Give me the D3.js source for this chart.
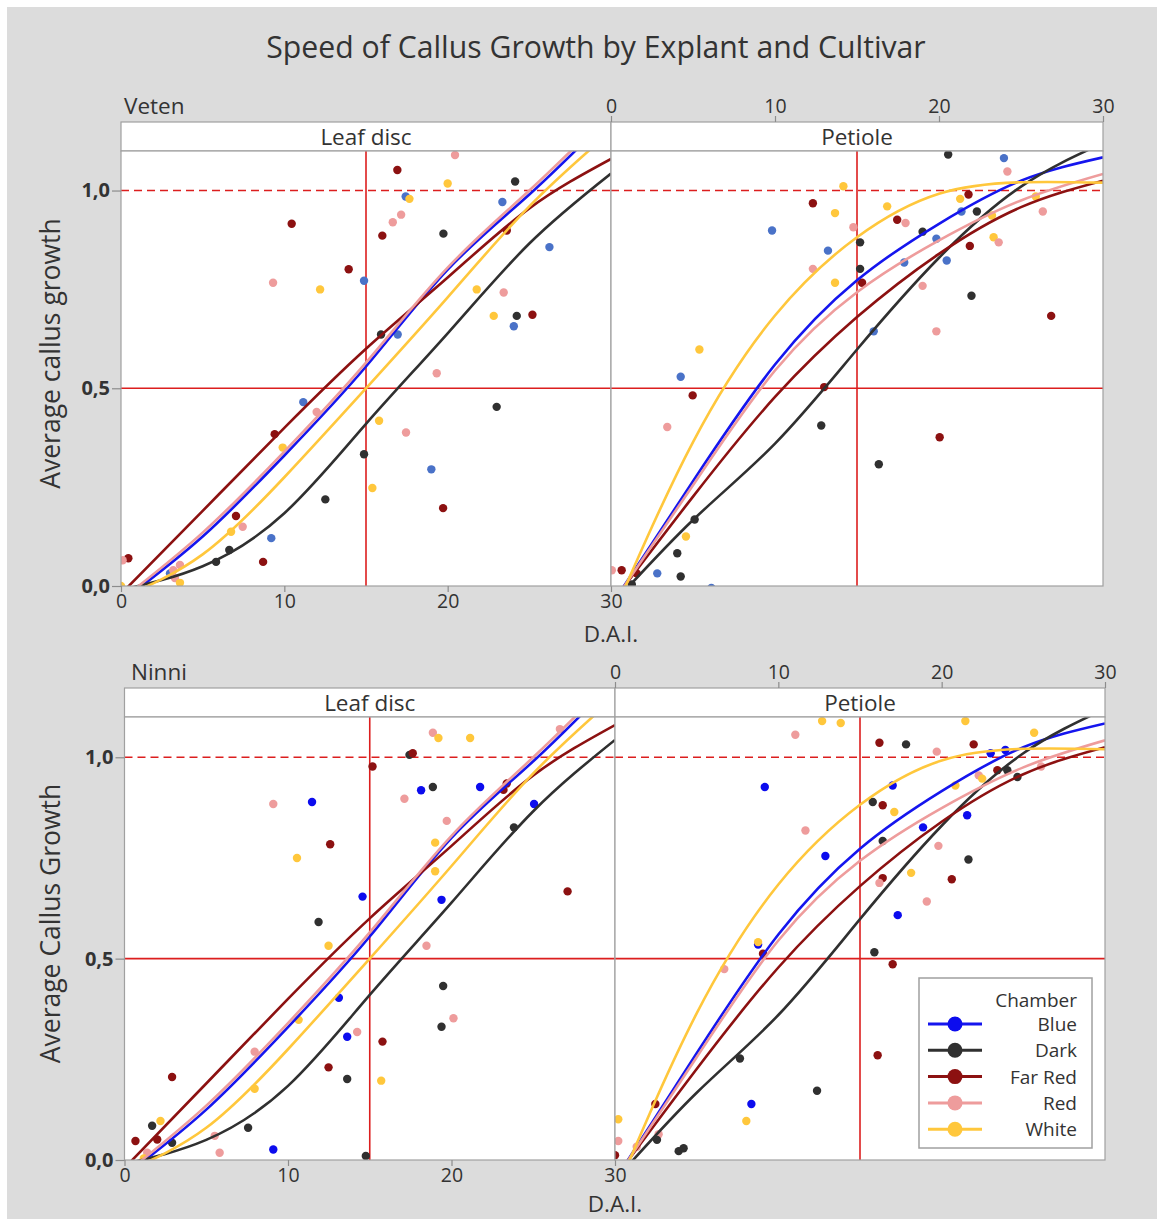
<!DOCTYPE html>
<html>
<head>
<meta charset="utf-8">
<script src="https://cdn.jsdelivr.net/npm/d3@7"></script>
<style>
  body { margin: 0; background: #fff; }
  svg text { font-family: "Segoe UI", "Open Sans", "Noto Sans", sans-serif; fill: #333; }
</style>
</head>
<body>
<svg width="1157" height="1219"></svg>
<script>
// chamber categories (legend order)
const chambers = ["Blue", "Dark", "Far Red", "Red", "White"];
const dayTicks = [0, 10, 20, 30];
const growthTicks = [0, 0.5, 1.0];

// fitted curves at these days
const fitDays = [0, 5, 10, 15, 20, 25, 30];
const leafFitBlue   = [-0.04, 0.125, 0.33, 0.555, 0.80, 0.99, 1.19];
const leafFitDark   = [-0.01, 0.05, 0.184, 0.41, 0.639, 0.866, 1.043];
const leafFitFarRed = [-0.02, 0.19, 0.40, 0.60, 0.78, 0.955, 1.08];
const leafFitRed    = [-0.035, 0.135, 0.34, 0.565, 0.805, 1.0, 1.2];
const leafFitWhite  = [-0.03, 0.08, 0.275, 0.50, 0.73, 0.96, 1.15];

const petFitBlue   = [-0.05, 0.265, 0.56, 0.773, 0.916, 1.025, 1.084];
const petFitDark   = [-0.05, 0.167, 0.36, 0.598, 0.83, 1.01, 1.12];
const petFitFarRed = [-0.045, 0.226, 0.478, 0.68, 0.84, 0.958, 1.025];
const petFitRed    = [-0.05, 0.255, 0.545, 0.743, 0.874, 0.975, 1.042];
const petFitWhite  = [-0.085, 0.364, 0.684, 0.882, 0.992, 1.021, 1.02];

// observations: [chamber, D.A.I., average growth]
const vetenLeaf = [
  ["Red",20.45,1.09],["Far Red",16.92,1.052],["Dark",24.13,1.023],["White",20.0,1.018],
  ["Blue",17.43,0.985],["White",17.66,0.979],["Blue",23.35,0.971],["Red",17.15,0.939],
  ["Red",16.64,0.92],["Far Red",10.45,0.916],["Far Red",16.0,0.886],["Dark",19.74,0.891],
  ["Far Red",23.62,0.899],["Blue",26.23,0.857],["Far Red",13.94,0.801],["Red",9.31,0.767],
  ["Blue",14.88,0.772],["White",12.19,0.75],["White",21.78,0.75],["Red",23.43,0.742],
  ["White",22.82,0.683],["Dark",24.23,0.683],["Far Red",25.19,0.686],["Blue",24.05,0.657],
  ["Dark",15.92,0.636],["Blue",16.94,0.636],["Red",19.33,0.538],["Blue",11.16,0.465],
  ["Dark",23.0,0.453],["Red",11.98,0.44],["White",15.8,0.418],["Far Red",9.41,0.384],
  ["Red",17.45,0.388],["White",9.9,0.35],["Dark",14.88,0.333],["Blue",19.0,0.295],
  ["White",15.39,0.248],["Dark",12.51,0.219],["Far Red",19.72,0.197],["Far Red",7.04,0.177],
  ["Red",7.45,0.15],["White",6.74,0.137],["Blue",9.2,0.121],["Dark",6.63,0.091],
  ["Dark",5.82,0.061],["Far Red",8.7,0.061],["Far Red",0.45,0.07],["Red",0.1,0.065],
  ["Red",3.61,0.053],["Blue",3.0,0.032],["Red",3.2,0.04],["Red",3.3,0.02],
  ["White",3.61,0.008],["White",0.0,0.0]
];
const vetenPetiole = [
  ["Dark",20.56,1.091],["Blue",23.96,1.082],["Red",24.17,1.048],["White",14.17,1.011],
  ["Far Red",21.8,0.99],["White",21.29,0.979],["Far Red",12.31,0.968],["White",16.84,0.96],
  ["White",25.9,0.985],["Blue",21.37,0.947],["Dark",22.31,0.947],["Red",26.33,0.947],
  ["White",13.66,0.943],["White",23.23,0.937],["Far Red",17.45,0.926],["Red",17.96,0.918],
  ["Red",14.78,0.907],["Blue",9.82,0.899],["Dark",19.0,0.896],["Blue",19.84,0.878],
  ["White",23.33,0.882],["Red",23.64,0.869],["Dark",15.19,0.869],["Far Red",21.88,0.86],
  ["Blue",13.23,0.848],["Blue",17.88,0.818],["Blue",20.47,0.823],["Red",12.31,0.802],
  ["Dark",15.19,0.802],["White",13.66,0.767],["Far Red",15.31,0.767],["Red",19.0,0.759],
  ["Dark",21.98,0.734],["Far Red",26.84,0.683],["Red",19.84,0.644],["Blue",16.02,0.644],
  ["White",5.39,0.598],["Blue",4.25,0.529],["Far Red",13.0,0.503],["Far Red",4.98,0.482],
  ["Dark",12.82,0.406],["Red",3.43,0.402],["Far Red",20.04,0.376],["Dark",16.33,0.308],
  ["Dark",5.1,0.168],["White",4.57,0.125],["Dark",4.04,0.083],["Dark",4.25,0.024],
  ["Blue",2.82,0.032],["Far Red",0.65,0.04],["Far Red",1.57,0.032],["Dark",1.27,0.004],
  ["Blue",6.12,-0.005],["Red",0.05,0.04]
];
const ninniLeaf = [
  ["Red",18.86,1.061],["White",19.2,1.048],["White",21.14,1.048],["Red",26.63,1.07],
  ["Dark",17.43,1.006],["Far Red",17.63,1.01],["Far Red",15.17,0.977],["Blue",18.14,0.918],
  ["Dark",18.86,0.926],["Blue",21.75,0.926],["Far Red",23.38,0.935],["Far Red",23.18,0.919],
  ["Red",17.12,0.897],["Red",9.1,0.884],["Blue",11.47,0.889],["Blue",25.05,0.884],
  ["Red",19.71,0.842],["Dark",23.82,0.826],["White",19.0,0.788],["Far Red",12.58,0.784],
  ["White",10.55,0.75],["White",19.0,0.717],["Far Red",27.1,0.667],["Blue",14.56,0.654],
  ["Blue",19.39,0.646],["Dark",11.87,0.591],["White",12.48,0.532],["Red",18.47,0.532],
  ["Dark",19.49,0.432],["Blue",13.11,0.403],["White",10.65,0.348],["Red",20.12,0.352],
  ["Dark",19.39,0.331],["Red",14.23,0.318],["Blue",13.62,0.306],["Far Red",15.78,0.294],
  ["Red",7.96,0.269],["Far Red",12.48,0.23],["Dark",13.62,0.201],["Far Red",2.91,0.206],
  ["White",15.7,0.197],["White",7.96,0.177],["Dark",7.56,0.08],["Dark",1.69,0.085],
  ["White",2.2,0.097],["Red",5.52,0.06],["Far Red",2.0,0.051],["Far Red",0.67,0.047],
  ["Dark",2.91,0.043],["Blue",9.1,0.026],["Red",5.82,0.018],["Red",1.39,0.018],
  ["White",1.18,0.004],["Dark",14.76,0.01]
];
const ninniPetiole = [
  ["White",12.68,1.09],["White",13.82,1.085],["White",21.45,1.09],["Red",11.04,1.056],
  ["White",25.66,1.061],["Far Red",16.19,1.036],["Dark",17.82,1.032],["Far Red",21.96,1.032],
  ["Blue",23.9,1.018],["Blue",23.0,1.01],["Red",19.7,1.014],["Far Red",23.41,0.968],
  ["Dark",24.02,0.968],["Red",26.09,0.977],["Dark",24.64,0.951],["Red",22.27,0.955],
  ["White",22.48,0.947],["White",20.84,0.93],["Blue",17.0,0.93],["Blue",9.17,0.926],
  ["Dark",15.78,0.889],["Far Red",16.39,0.881],["White",17.1,0.864],["Blue",21.56,0.856],
  ["Red",11.66,0.818],["Blue",18.86,0.826],["Dark",16.39,0.792],["Red",19.8,0.78],
  ["Blue",12.88,0.755],["Dark",21.64,0.746],["White",18.13,0.713],["Far Red",16.39,0.7],
  ["Red",16.19,0.688],["Far Red",20.62,0.697],["Red",19.09,0.642],["Blue",17.31,0.608],
  ["Blue",8.76,0.535],["White",8.76,0.541],["Far Red",9.06,0.512],["Dark",15.88,0.516],
  ["Far Red",17.0,0.486],["Red",6.69,0.474],["Far Red",16.08,0.26],["Dark",7.65,0.252],
  ["Dark",12.37,0.172],["Blue",8.35,0.139],["Far Red",2.47,0.139],["White",8.04,0.097],
  ["Red",2.67,0.064],["Dark",2.57,0.05],["Dark",3.9,0.022],["Dark",4.2,0.029],
  ["White",0.2,0.101],["Red",0.2,0.047],["Red",1.33,0.033],["Far Red",0.0,0.012]
];

const lineColor = { "Blue": "#1515ee", "Dark": "#303030", "Far Red": "#8c1111", "Red": "#ee9c9c", "White": "#ffc73c" };
const refColor = "#dc1e1e";

const leafFits = { "Blue": leafFitBlue, "Dark": leafFitDark, "Far Red": leafFitFarRed, "Red": leafFitRed, "White": leafFitWhite };
const petFits = { "Blue": petFitBlue, "Dark": petFitDark, "Far Red": petFitFarRed, "Red": petFitRed, "White": petFitWhite };

var svg = d3.select("svg");

// page background
svg.append("rect").attr("x", 7).attr("y", 7).attr("width", 1150).attr("height", 1212).attr("fill", "#dcdcdc");

svg.append("text")
    .attr("x", 596).attr("y", 58)
    .attr("text-anchor", "middle")
    .style("font-size", "30.2px")
    .attr("fill", "#383838")
    .text("Speed of Callus Growth by Explant and Cultivar");

// layout of the two rows
let rows = [
    { name: "Veten", nameX: 124, yTitle: "Average callus growth", top: 151, bottom: 586,
      leaf: [121, 611], pet: [611, 1103], leafPts: vetenLeaf, petPts: vetenPetiole, blueDot: "#4a72c8", xTitleY: 642 },
    { name: "Ninni", nameX: 131, yTitle: "Average Callus Growth", top: 717, bottom: 1160,
      leaf: [124.5, 615], pet: [615, 1105], leafPts: ninniLeaf, petPts: ninniPetiole, blueDot: "#0c0cee", xTitleY: 1212 }
];

let stripH = 29;
let clipId = 0;

function dotColor(c, row) {
    return c === "Blue" ? row.blueDot : lineColor[c];
}

function drawPanel(row, xr, label, points, fits, axisSide) {
    let x = d3.scaleLinear().domain([0, 30]).range(xr);
    let y = d3.scaleLinear().domain([0, 1.1]).range([row.bottom, row.top]);
    let g = svg.append("g");

    // strip
    g.append("rect")
        .attr("x", xr[0]).attr("y", row.top - stripH)
        .attr("width", xr[1] - xr[0]).attr("height", stripH)
        .attr("fill", "#fff").attr("stroke", "#a0a0a0").attr("stroke-width", 1.2);
    g.append("text")
        .attr("x", (xr[0] + xr[1]) / 2).attr("y", row.top - 6)
        .attr("text-anchor", "middle")
        .style("font-size", "22.5px")
        .text(label);

    // plot area
    g.append("rect")
        .attr("x", xr[0]).attr("y", row.top)
        .attr("width", xr[1] - xr[0]).attr("height", row.bottom - row.top)
        .attr("fill", "#fff");

    let id = "clip" + (clipId++);
    svg.append("clipPath").attr("id", id)
        .append("rect")
        .attr("x", xr[0]).attr("y", row.top)
        .attr("width", xr[1] - xr[0]).attr("height", row.bottom - row.top);

    let inner = g.append("g").attr("clip-path", `url(#${id})`);

    // reference lines
    inner.append("line")
        .attr("x1", x(15)).attr("x2", x(15)).attr("y1", row.top).attr("y2", row.bottom)
        .attr("stroke", refColor).attr("stroke-width", 1.6);
    inner.append("line")
        .attr("x1", xr[0]).attr("x2", xr[1]).attr("y1", y(0.5)).attr("y2", y(0.5))
        .attr("stroke", refColor).attr("stroke-width", 1.6);
    inner.append("line")
        .attr("x1", xr[0]).attr("x2", xr[1]).attr("y1", y(1)).attr("y2", y(1))
        .attr("stroke", refColor).attr("stroke-width", 1.6)
        .attr("stroke-dasharray", "8,5");

    // points
    inner.selectAll("circle.obs")
        .data(points)
        .enter().append("circle")
        .attr("class", "obs")
        .attr("cx", d => x(d[1]))
        .attr("cy", d => y(d[2]))
        .attr("r", 4.2)
        .attr("fill", d => dotColor(d[0], row));

    // fitted curves
    let line = d3.line()
        .x(d => x(d[0]))
        .y(d => y(d[1]))
        .curve(d3.curveNatural);
    chambers.forEach(function (c) {
        let pts = fitDays.map((dd, i) => [dd, fits[c][i]]);
        inner.append("path")
            .attr("d", line(pts))
            .attr("fill", "none")
            .attr("stroke", lineColor[c])
            .attr("stroke-width", 2.6);
    });

    // border
    g.append("rect")
        .attr("x", xr[0]).attr("y", row.top)
        .attr("width", xr[1] - xr[0]).attr("height", row.bottom - row.top)
        .attr("fill", "none").attr("stroke", "#a0a0a0").attr("stroke-width", 1.2);

    // x axis
    let ax;
    if (axisSide === "bottom") {
        ax = g.append("g").attr("transform", `translate(0, ${row.bottom})`)
            .call(d3.axisBottom(x).tickValues(dayTicks).tickSize(6).tickPadding(2));
    } else {
        ax = g.append("g").attr("transform", `translate(0, ${row.top - stripH})`)
            .call(d3.axisTop(x).tickValues(dayTicks).tickSize(6).tickPadding(3));
    }
    ax.select(".domain").remove();
    ax.selectAll("line").attr("stroke", "#8c8c8c").attr("stroke-width", 1.2);
    ax.selectAll("text").style("font-size", "19.5px").attr("fill", "#333");
    return { x: x, y: y };
}

rows.forEach(function (row) {
    let s = drawPanel(row, row.leaf, "Leaf disc", row.leafPts, leafFits, "bottom");
    drawPanel(row, row.pet, "Petiole", row.petPts, petFits, "top");

    // y axis on the leftmost panel
    let ay = svg.append("g").attr("transform", `translate(${row.leaf[0]}, 0)`)
        .call(d3.axisLeft(s.y).tickValues(growthTicks).tickSize(9).tickPadding(2)
            .tickFormat(d => d3.format(".1f")(d).replace(".", ",")));
    ay.select(".domain").remove();
    ay.selectAll("line").attr("stroke", "#8c8c8c").attr("stroke-width", 1.2);
    ay.selectAll("text").style("font-size", "20px").style("font-weight", "bold").attr("fill", "#2a2a2a");

    // row label
    svg.append("text")
        .attr("x", row.nameX).attr("y", row.top - stripH - 8)
        .style("font-size", "22.5px")
        .text(row.name);

    // axis titles
    svg.append("text")
        .attr("transform", `translate(60, ${(row.top + row.bottom) / 2 - 15}) rotate(-90)`)
        .attr("text-anchor", "middle")
        .style("font-size", "26.5px")
        .text(row.yTitle);
    svg.append("text")
        .attr("x", row.leaf[1]).attr("y", row.xTitleY)
        .attr("text-anchor", "middle")
        .style("font-size", "22.5px")
        .text("D.A.I.");
});

// legend
let lg = svg.append("g").attr("transform", "translate(919, 978)");
lg.append("rect").attr("width", 173).attr("height", 170)
    .attr("fill", "#fff").attr("stroke", "#a0a0a0").attr("stroke-width", 1.5);
lg.append("text").attr("x", 158).attr("y", 29).attr("text-anchor", "end")
    .style("font-size", "19px").text("Chamber");
let item = lg.selectAll("g.item").data(chambers).enter().append("g")
    .attr("class", "item")
    .attr("transform", (d, i) => `translate(0, ${46 + i * 26.3})`);
item.append("line").attr("x1", 9).attr("x2", 63).attr("y1", 0).attr("y2", 0)
    .attr("stroke", d => lineColor[d]).attr("stroke-width", 3);
item.append("circle").attr("cx", 36).attr("cy", 0).attr("r", 7.5)
    .attr("fill", d => d === "Blue" ? "#0c0cee" : lineColor[d]);
item.append("text").attr("x", 158).attr("y", 7).attr("text-anchor", "end")
    .style("font-size", "19px").text(d => d);
</script>
</body>
</html>
